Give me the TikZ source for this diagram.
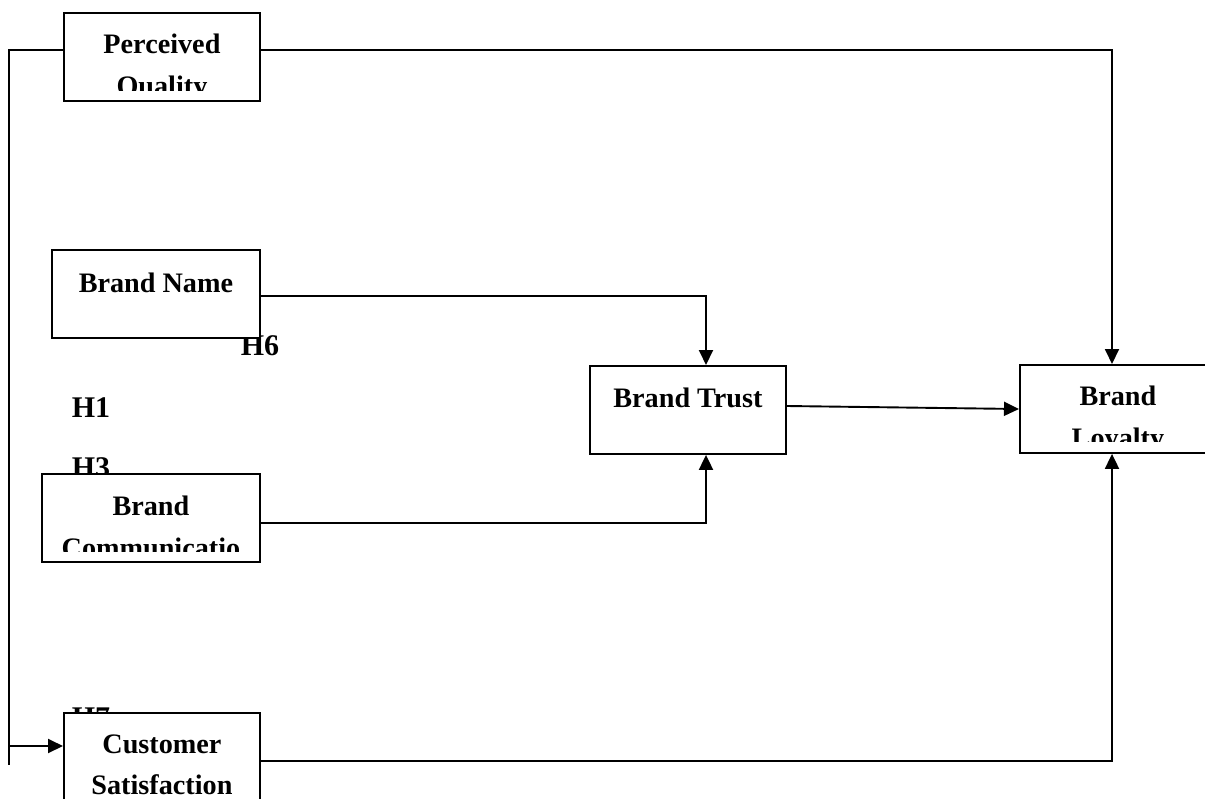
\documentclass[tikz,border=0pt]{standalone}
\usepackage{fontspec}
\setmainfont{Liberation Serif}
\usetikzlibrary{arrows.meta,calc}
\begin{document}
\begin{tikzpicture}[x=1pt,y=-1pt,
  box/.style={draw,line width=1.9pt,fill=white,minimum width=196pt,minimum height=88pt,anchor=north west,inner sep=0pt},
  txt/.style={font=\bfseries\fontsize{28.2}{33}\selectfont,anchor=base,inner sep=0pt},
  hlab/.style={font=\bfseries\fontsize{30}{36}\selectfont,anchor=base,inner sep=0pt},
  conn/.style={line width=1.9pt},
  arr/.style={line width=1.9pt,-{Triangle[length=15pt,width=14pt]}}]
\clip (0,0) rectangle (1205,798);
\fill[white] (0,0) rectangle (1205,798);
% hypothesis labels
\node[hlab] (h6) at (260,355) {H6};
\node[hlab] (h1) at (91,417) {H1};
\node[hlab] (h3) at (91,477) {H3};
\node[hlab] (h7) at (91,727) {H7};
% boxes
\node[box] (pq) at (63,12) {};
\node[box,minimum width=208pt] (bn) at (51,249) {};
\node[box,minimum width=218pt] (bc) at (41,473) {};
\node[box] (bt) at (589,365) {};
\node[box] (bl) at (1019,364) {};
\node[box] (cs) at (63,712) {};
% box texts
\node[txt] (pqt) at ($(pq.north)+(0,41)$) {Perceived};
\begin{scope}
\clip (pq.north west) rectangle ($(pq.south east)+(0,-11)$);
\node[txt] (pqt2) at ($(pq.north)+(0,83)$) {Quality};
\end{scope}
\node[txt] (bnt) at ($(bn.north)+(0,43)$) {Brand Name};
\node[txt] (bct) at ($(bc.north)+(0,42)$) {Brand};
\begin{scope}
\clip (bc.north west) rectangle ($(bc.south east)+(0,-11)$);
\node[txt] (bct2) at ($(bc.north)+(0,84)$) {Communicatio};
\end{scope}
\node[txt] (btt) at ($(bt.north)+(0,42)$) {Brand Trust};
\node[txt] (blt) at ($(bl.north)+(0,41)$) {Brand};
\begin{scope}
\clip (bl.north west) rectangle ($(bl.south east)+(0,-12)$);
\node[txt] (blt2) at ($(bl.north)+(0,83)$) {Loyalty};
\end{scope}
\node[txt] (cst) at ($(cs.north)+(0,41)$) {Customer};
\node[txt] (cst2) at ($(cs.north)+(0,82)$) {Satisfaction};
% connectors
\coordinate (lt) at (9,50);
\coordinate (lb) at (9,765);
\coordinate (la) at (9,746);
\draw[conn] ($(pq.north west)+(0,38)$) -- (lt) -- (lb);
\draw[arr] (la) -- (cs.west |- la);
\draw[arr] ($(pq.north east)+(0,38)$) -| ($(bl.north west)+(93,0)$);
\draw[arr] ($(bn.north east)+(0,47)$) -| ($(bt.north west)+(117,0)$);
\draw[arr] ($(bc.north east)+(0,50)$) -| ($(bt.south west)+(117,0)$);
\draw[arr] ($(bt.north east)+(0,41)$) -- ($(bl.north west)+(0,45)$);
\draw[arr] ($(cs.north east)+(0,49)$) -| ($(bl.south west)+(93,0)$);
\end{tikzpicture}
\end{document}
